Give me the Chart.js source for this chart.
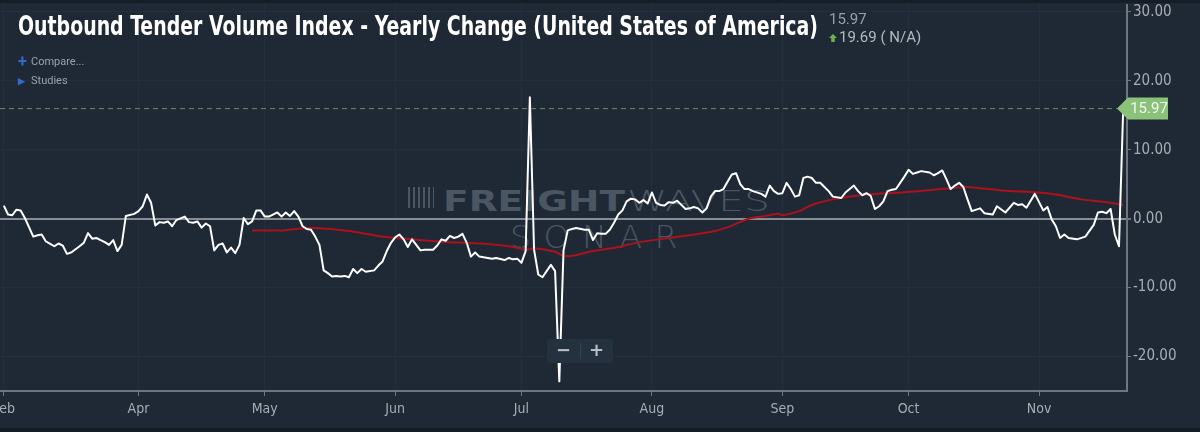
<!DOCTYPE html>
<html>
<head>
<meta charset="utf-8">
<script src="https://cdn.jsdelivr.net/npm/chart.js@4.4.1/dist/chart.umd.min.js"></script>
<style>
    html, body { margin: 0; padding: 0; }
    body { width: 1200px; height: 432px; background: #1e2935; position: relative; overflow: hidden; font-family: 'Liberation Sans Narrow', 'DejaVu Sans Condensed', Roboto, sans-serif; }
    .band { position: absolute; left: 0; width: 1200px; background: #151d26; }
    #wrap { position: absolute; left: 0; top: 0; width: 1200px; height: 432px; }
    #title { position: absolute; left: 18px; top: 10px; color: #fff; font-weight: bold; font-size: 27px; white-space: nowrap; transform-origin: left top; }
    .info { position: absolute; color: #98a0a8; font-size: 15px; white-space: nowrap; font-family: Roboto, sans-serif; }
    .menu { position: absolute; left: 18px; color: #9aa2aa; font-size: 11px; font-family: Roboto, sans-serif; white-space: nowrap; line-height: 14px; }
    .menu b { color: #2e6bcc; display: inline-block; width: 13px; }
    .arrow { display: inline-block; width: 8px; height: 8px; background: #6fb04f; clip-path: polygon(50% 0, 100% 50%, 72% 50%, 72% 100%, 28% 100%, 28% 50%, 0 50%); margin-right: 2px; }
    .wm { position: absolute; color: #4a5662; white-space: nowrap; transform-origin: left top; line-height: 1; }
    #zoomBox { position: absolute; left: 547px; top: 339px; width: 66px; height: 24px; background: #243240; border-radius: 3px; color: #b8bec4; font: bold 18px 'DejaVu Sans', sans-serif; }
</style>
</head>
<body>
<div class="band" style="top:0;height:3px"></div>
<div class="band" style="top:428px;height:4px"></div>

<div class="wm" id="wmIcon" style="left:408px;top:187px;width:26px;height:21px;background:repeating-linear-gradient(90deg,#4a5662 0 2px,transparent 2px 5px)"></div>
<div class="wm fit" data-w="182" style="left:443px;top:184px;font:900 29px 'DejaVu Sans',sans-serif">FREIGHT</div>
<div class="wm fit" data-w="143" style="left:627px;top:184px;font:200 29px 'DejaVu Sans',sans-serif">WAVES</div>
<div class="wm fit" data-w="180" style="left:510px;top:218px;font:200 32px 'DejaVu Sans',sans-serif;letter-spacing:12px">SONAR</div>

<div id="wrap"><canvas id="chart" width="1200" height="432"></canvas></div>

<div id="title" class="fit" data-w="800">Outbound Tender Volume Index - Yearly Change (United States of America)</div>
<div class="info" id="lastLbl" style="left:829px;top:10px"></div>
<div class="info" id="chgLbl" style="left:829px;top:28px;color:#b4bac0"></div>
<div class="menu" style="top:55px"><b style="font-size:16px;vertical-align:-2px">+</b>Compare...</div>
<div class="menu" style="top:74px"><b style="font-size:9px">&#9654;</b>Studies</div>
<div id="zoomBox">
    <span style="position:absolute;left:9px;top:0px">&#8722;</span>
    <span style="position:absolute;left:33px;top:4px;width:1px;height:16px;background:#35424f"></span>
    <span style="position:absolute;left:42px;top:0px">+</span>
</div>

<script>
// x values are day offsets from Mar 1
const tickDays = [-1, 31, 61, 92, 122, 153, 184, 214, 245];
const tickLabels = ['Feb', 'Apr', 'May', 'Jun', 'Jul', 'Aug', 'Sep', 'Oct', 'Nov'];
const yTicks = [-20, -10, 0, 10, 20, 30];

const otviDays = [
    -1, 0, 1, 2, 3, 4, 6, 7, 8, 9, 11, 12, 13, 14, 15, 17, 18, 19, 20, 21, 22, 23, 24, 25, 26, 27, 28, 30,
    31, 32, 33, 34, 35, 36, 37, 38, 39, 40, 42, 43, 44, 45, 46, 47, 48, 49, 50, 51, 52, 53, 54, 55, 56, 57,
    58, 59, 60, 61, 62, 64, 65, 66, 67, 68, 69, 70, 71, 72, 73, 74, 75, 76, 77, 78, 79, 80, 81, 82, 83, 84,
    85, 87, 88, 89, 90, 91, 92, 93, 94, 95, 96, 97, 98, 99, 101, 102, 103, 104, 105, 106, 107, 108, 109,
    110, 111, 112, 114, 115, 116, 118, 119, 120, 121, 122, 123, 124, 125, 126, 127, 129, 130, 131, 132,
    133, 134, 135, 137, 138, 139, 140, 141, 142, 143, 144, 145, 146, 147, 148, 149, 150, 151, 152, 153,
    154, 155, 156, 157, 158, 159, 160, 161, 162, 163, 164, 165, 166, 167, 168, 169, 170, 171, 172, 173,
    174, 175, 176, 177, 179, 180, 181, 182, 183, 184, 185, 186, 187, 188, 189, 190, 191, 192, 193, 194,
    195, 196, 198, 199, 200, 201, 202, 203, 204, 205, 206, 207, 208, 209, 210, 211, 213, 214, 215, 216,
    217, 219, 220, 221, 222, 223, 224, 225, 226, 227, 228, 229, 231, 232, 234, 235, 237, 239, 240, 241,
    242, 244, 246, 247, 248, 249, 250, 251, 252, 254, 256, 258, 259, 260, 261, 262, 263, 264, 265
];
const otviValues = [
    1.9, 0.6, 0.5, 1.3, 1.2, 0.1, -2.6, -2.4, -2.3, -3.3, -4.0, -3.6, -3.9, -5.1, -4.9, -4.0, -3.5, -2.1, -2.9, -2.8, -3.1, -3.4, -3.8, -3.1, -4.7, -3.8, 0.4, 0.7,
    1.1, 1.8, 3.5, 2.3, -1.0, -0.5, -0.6, -0.4, -1.1, -0.2, 0.3, -0.5, -0.6, -0.4, -1.3, -0.7, -1.1, -4.6, -3.8, -3.6, -4.9, -4.2, -5.0, -3.8, 0.1, -0.8,
    -0.4, 1.2, 1.2, 0.3, 0.3, 0.9, 0.3, 0.9, 0.4, 1.1, 0.3, -1.1, -1.5, -1.6, -2.6, -3.8, -7.5, -7.9, -8.4, -8.3, -8.4, -8.3, -8.5, -7.3, -7.9, -7.3,
    -7.7, -7.5, -6.8, -6.2, -4.7, -3.5, -2.7, -2.3, -3.0, -4.1, -3.0, -3.8, -4.6, -4.5, -4.5, -3.9, -3.0, -3.2, -2.5, -2.8, -2.6, -2.2, -3.5,
    -5.5, -4.9, -5.5, -5.7, -5.8, -5.7, -6.0, -5.7, -5.9, -5.8, -6.4, -4.7, 17.6, -4.5, -8.1, -8.5, -6.7, -7.6, -23.6, -4.6,
    -1.7, -1.5, -1.35, -1.6, -1.6, -3.1, -2.1, -2.2, -2.2, -1.6, -0.6, 0.6, 1.2, 2.5, 2.9, 2.8, 2.3, 2.7, 2.2, 3.8,
    2.3, 2.0, 1.9, 2.4, 2.3, 2.6, 2.0, 1.4, 1.5, 1.7, 1.5, 0.9, 1.5, 3.2, 4.0, 4.0, 4.3, 5.4, 6.4, 6.6,
    5.0, 4.3, 4.3, 4.0, 3.6, 3.2, 4.8, 4.0, 3.6, 3.7, 5.2, 4.3, 3.2, 3.4, 5.9, 6.1, 5.9, 5.2, 5.2, 4.6,
    4.0, 3.2, 3.0, 3.8, 4.3, 4.8, 4.0, 3.4, 3.7, 3.3, 1.4, 1.8, 2.5, 4.0, 4.2, 4.3, 6.1, 7.1, 6.5, 6.7,
    6.9, 6.7, 6.3, 6.6, 7.0, 5.7, 4.3, 4.8, 5.2, 4.6, 2.8, 1.1, 1.5, 0.8, 0.6, 1.8, 0.9, 2.3, 2.0, 2.1,
    1.6, 3.6, 1.2, 1.7, -0.1, -1.1, -2.8, -2.3, -2.8, -3.0, -2.6, -0.9, 0.9, 1.0, 0.8, 1.4, -2.3, -4.0, 15.97
];

// moving average (red)
const maDays = [58, 65, 69, 73, 81, 88, 96, 104, 112, 119, 123, 125, 130, 132, 134, 139, 145, 150, 157, 163, 168, 172, 176, 180, 183, 184, 188, 190, 192, 196, 204, 212, 220, 225, 228, 236, 245, 249, 255, 261, 265];
const maValues = [-1.7, -1.7, -1.45, -1.35, -1.8, -2.5, -3.0, -3.4, -3.6, -4.0, -4.5, -4.3, -4.8, -5.4, -5.4, -4.7, -4.1, -3.4, -2.8, -2.3, -1.8, -1.0, 0.0, 0.4, 0.7, 0.5, 1.1, 1.7, 2.2, 2.8, 3.5, 3.8, 4.2, 4.5, 4.6, 4.1, 3.8, 3.5, 2.8, 2.4, 2.0];

const lastValue = otviValues[otviValues.length - 1];
const changeValue = 19.69;

document.getElementById('lastLbl').innerText = lastValue.toFixed(2);
document.getElementById('chgLbl').innerHTML = '<span class="arrow"></span>' + changeValue.toFixed(2) + ' ( N/A)';

function fitText() {
    document.querySelectorAll('.fit').forEach(el => {
        const target = +el.dataset.w;
        const w = el.getBoundingClientRect().width;
        if (w > 0) el.style.transform = 'scaleX(' + (target / w) + ')';
    });
}
fitText();

const tagPlugin = {
    id: 'lastTag',
    afterDatasetsDraw(chart) {
        const ctx = chart.ctx;
        const y = chart.scales.y.getPixelForValue(lastValue);
        const area = chart.chartArea;
        const tipX = area.right - 10;
        ctx.save();
        ctx.strokeStyle = '#6b8b62';
        ctx.lineWidth = 1;
        ctx.setLineDash([5, 4]);
        ctx.beginPath();
        ctx.moveTo(area.left, y);
        ctx.lineTo(tipX, y);
        ctx.stroke();
        ctx.setLineDash([]);
        ctx.fillStyle = '#8bc27a';
        ctx.beginPath();
        ctx.moveTo(tipX, y);
        ctx.lineTo(tipX + 11, y - 11);
        ctx.lineTo(tipX + 51, y - 11);
        ctx.lineTo(tipX + 51, y + 11);
        ctx.lineTo(tipX + 11, y + 11);
        ctx.closePath();
        ctx.fill();
        ctx.fillStyle = '#f4f8f2';
        ctx.font = '15px "Liberation Sans Narrow", Roboto, sans-serif';
        ctx.textAlign = 'center';
        ctx.textBaseline = 'middle';
        ctx.fillText(lastValue.toFixed(2), tipX + 32, y + 1);
        ctx.restore();
    }
};

const tickFont = { family: "'Liberation Sans Narrow', 'DejaVu Sans Condensed', Roboto, sans-serif", size: 15 };

new Chart(document.getElementById('chart'), {
    type: 'line',
    data: {
        datasets: [
            {
                data: otviDays.map((d, i) => ({ x: d, y: otviValues[i] })),
                borderColor: '#ffffff',
                borderWidth: 2,
                pointRadius: 0,
                tension: 0,
                borderJoinStyle: 'round'
            },
            {
                data: maDays.map((d, i) => ({ x: d, y: maValues[i] })),
                borderColor: '#ad111c',
                borderWidth: 2,
                pointRadius: 0,
                tension: 0.3
            }
        ]
    },
    options: {
        responsive: false,
        animation: false,
        layout: { padding: { top: 5, bottom: 7, left: 0, right: 0 } },
        plugins: { legend: { display: false }, tooltip: { enabled: false } },
        scales: {
            x: {
                type: 'linear',
                min: -1.91,
                max: 265.9,
                afterBuildTicks: s => { s.ticks = tickDays.map(v => ({ value: v })); },
                afterFit: s => { s.height = 34; s.paddingLeft = 0; s.paddingRight = 0; },
                ticks: {
                    autoSkip: false,
                    maxRotation: 0,
                    color: '#a6adb4',
                    font: { family: tickFont.family, size: 14 },
                    padding: 5,
                    callback: v => tickLabels[tickDays.indexOf(v)]
                },
                grid: { color: '#232f3c', tickColor: '#6e767e', tickLength: 5 },
                border: { color: '#6e767e', width: 2 }
            },
            y: {
                position: 'right',
                min: -25,
                max: 31,
                afterBuildTicks: s => { s.ticks = yTicks.map(v => ({ value: v })); },
                afterFit: s => { s.width = 73; s.paddingTop = 0; s.paddingBottom = 0; },
                ticks: {
                    color: '#a6adb4',
                    font: tickFont,
                    padding: 2,
                    callback: v => v.toFixed(2)
                },
                grid: {
                    color: c => c.tick && c.tick.value === 0 ? '#858d95' : '#232f3c',
                    lineWidth: c => c.tick && c.tick.value === 0 ? 2 : 1,
                    tickColor: '#6e767e',
                    tickLength: 4
                },
                border: { color: '#6e767e', width: 2 }
            }
        }
    },
    plugins: [tagPlugin]
});
</script>
</body>
</html>
